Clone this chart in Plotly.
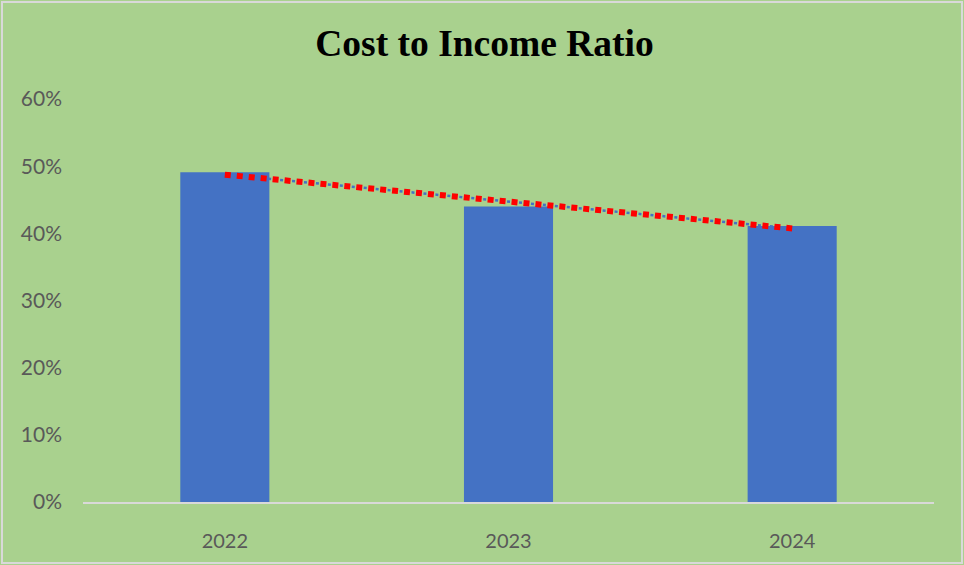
import numpy as np
import plotly.graph_objects as go

# Cost-to-income ratio by year
years = ["2022", "2023", "2024"]
ratio = [0.491, 0.440, 0.411]

W, H = 964, 565
M = dict(l=83, r=30, t=99, b=63)

BG = "#A9D18E"
BAR = "#4472C4"
TXT = "#595959"

xpos = np.arange(len(years))

# Linear trendline (least squares) across the bars
slope, intercept = np.polyfit(xpos, ratio, 1)
tx = np.array([xpos[0], xpos[-1]])
ty = slope * tx + intercept

fig = go.Figure()
fig.add_trace(go.Bar(
    x=xpos, y=ratio, marker=dict(color=BAR, line=dict(width=0)),
    width=0.314, hoverinfo="skip", showlegend=False,
))
fig.add_trace(go.Scatter(
    x=tx, y=ty, mode="lines",
    line=dict(color=BAR, width=2.5, dash="0px,7.5px,3px,1.5px"),
    hoverinfo="skip", showlegend=False,
))
fig.add_trace(go.Scatter(
    x=tx, y=ty, mode="lines",
    line=dict(color="#FF0000", width=6, dash="6px,6px"),
    hoverinfo="skip", showlegend=False,
))

pw = W - M["l"] - M["r"]
ph = H - M["t"] - M["b"]

fig.update_layout(
    width=W, height=H, margin=M,
    paper_bgcolor=BG, plot_bgcolor=BG,
    title=dict(
        text="<b>Cost to Income Ratio</b>",
        x=484.5 / W, xref="container", xanchor="center",
        y=1 - 43 / H, yanchor="middle",
        font=dict(family="Liberation Serif", size=37.5, color="#000000"),
    ),
    xaxis=dict(
        range=[-0.5, 2.5], tickvals=list(xpos), ticktext=years,
        showgrid=False, zeroline=False, showline=True,
        linecolor="#D9D9D9", linewidth=2, ticks="",
        ticklabelstandoff=20,
        tickfont=dict(family="Lato", size=20, color=TXT),
    ),
    yaxis=dict(
        range=[0, 0.6], dtick=0.1, tickformat=".0%",
        showgrid=False, zeroline=False, showline=False, ticks="",
        ticklabelstandoff=20,
        tickfont=dict(family="Lato", size=21, color=TXT),
    ),
    shapes=[dict(
        type="rect", xref="paper", yref="paper",
        x0=-(M["l"] - 2) / pw, x1=1 + (M["r"] - 2) / pw,
        y0=-(M["b"] - 2) / ph, y1=1 + (M["t"] - 2) / ph,
        line=dict(color="#D9D9D9", width=2), fillcolor="rgba(0,0,0,0)",
        layer="below",
    )],
)

fig.write_html("out.html")
